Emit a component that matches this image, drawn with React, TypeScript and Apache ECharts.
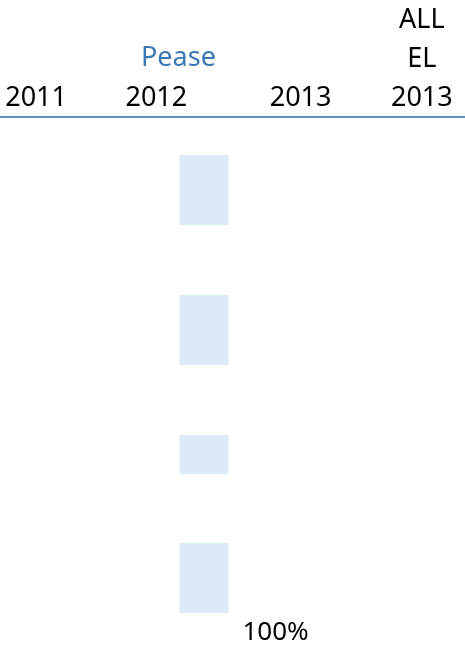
import React, { useEffect, useRef } from "react";
import * as echarts from "echarts";

// Column headers (top axis)
const columns = ["2011", "2012", "2013", "ALL\nEL\n2013"];
// Group heading above the 2012 column
const groupTitle = "Pease";
// Floating blocks: column index, start and end on the vertical scale (0..100, top to bottom)
const blockColumn = [1, 1, 1, 1];
const blockStart = [7.6, 35.6, 63.6, 85.2];
const blockEnd = [21.6, 49.6, 71.4, 99.2];
const blockLabels = ["", "", "", "100%"];

const FONT = "'Noto Sans', 'Open Sans', sans-serif";
const labelShift = [3, -7, 7, -2];
const OFFSET = 32; // chart canvas extends past the left edge

export default function App() {
  const ref = useRef<HTMLDivElement>(null);
  useEffect(() => {
    if (!ref.current) return;
    const chart = echarts.init(ref.current, null, { renderer: "svg" });
    const rich: any = {};
    labelShift.forEach((s, i) => {
      rich["c" + i] = {
        fontFamily: FONT,
        fontSize: 27,
        lineHeight: 39,
        color: "#000",
        align: "center",
        padding: s >= 0 ? [0, 0, 0, 2 * s] : [0, -2 * s, 0, 0],
      };
    });
    const data = blockStart.map((s, i) => [blockColumn[i], s, blockEnd[i], blockLabels[i]]);
    chart.setOption({
      animation: false,
      title: {
        text: groupTitle,
        left: 141 + OFFSET,
        top: 36,
        padding: 0,
        textStyle: { fontFamily: FONT, fontSize: 27, lineHeight: 39, fontWeight: "normal", color: "#3A78B5" },
      },
      grid: { left: 0, right: 0, top: 117, bottom: 33 },
      xAxis: {
        type: "category",
        position: "top",
        data: columns,
        axisLine: { show: true, lineStyle: { color: "#2E6CA6", width: 1.5 } },
        axisTick: { show: false },
        splitLine: { show: false },
        axisLabel: {
          interval: 0,
          margin: 2,
          formatter: (v: string, i: number) =>
            v.split("\n").map((line) => `{c${i}|${line}}`).join("\n"),
          rich,
        },
      },
      yAxis: {
        type: "value",
        inverse: true,
        min: 0,
        max: 100,
        show: false,
        splitLine: { show: false },
      },
      series: [
        {
          type: "custom",
          data,
          encode: { x: 0, y: [1, 2] },
          renderItem: (params: any, api: any) => {
            const col = api.value(0);
            const p0 = api.coord([col, api.value(1)]);
            const p1 = api.coord([col, api.value(2)]);
            const band = api.size([1, 0])[0];
            const right = p0[0] + band / 2;
            const w = 49;
            const label = blockLabels[params.dataIndex];
            const children: any[] = [
              {
                type: "rect",
                shape: { x: right - w, y: p0[1], width: w, height: p1[1] - p0[1] },
                style: { fill: "#DDE9F6" },
              },
            ];
            if (label) {
              children.push({
                type: "text",
                x: right + 14,
                y: p1[1] + 4,
                style: {
                  text: label,
                  fontFamily: FONT,
                  fontSize: 26,
                  fill: "#000",
                  align: "left",
                  verticalAlign: "top",
                },
              });
            }
            return { type: "group", children };
          },
        },
      ],
    });
    return () => chart.dispose();
  }, []);
  return (
    <div style={{ position: "fixed", left: 0, top: 0, width: 465, height: 650, overflow: "hidden" }}>
      <div ref={ref} style={{ position: "absolute", left: -OFFSET, top: 0, width: 465 + 56, height: 650 }} />
    </div>
  );
}
